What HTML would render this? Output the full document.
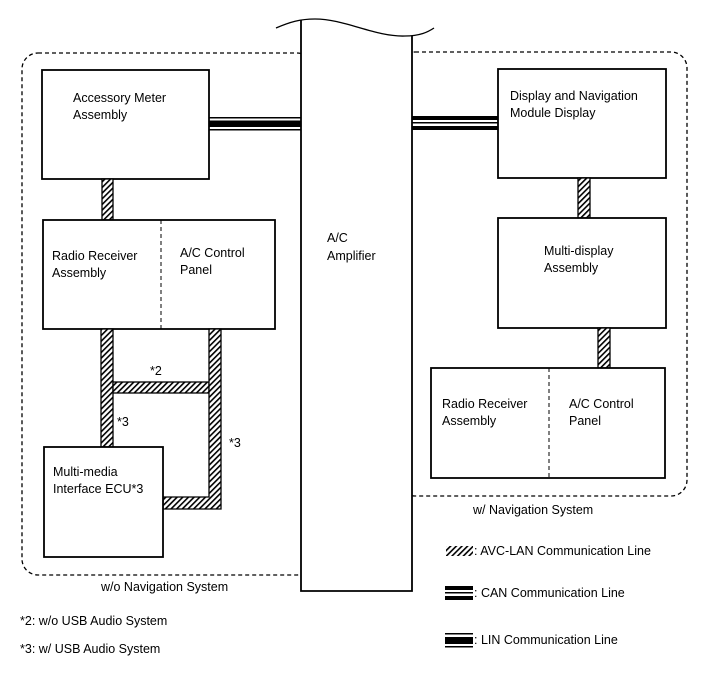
<!DOCTYPE html>
<html><head><meta charset="utf-8"><style>
html,body{margin:0;padding:0;background:#fff}
svg{display:block}
text{font-family:"Liberation Sans",Arial,sans-serif;font-size:12.5px;fill:#000}
</style></head><body>
<svg width="713" height="681" viewBox="0 0 713 681" xmlns="http://www.w3.org/2000/svg">
<defs>
<pattern id="h" patternUnits="userSpaceOnUse" width="4" height="4" patternTransform="rotate(45)">
<rect width="4" height="4" fill="#fff"/><rect width="1.6" height="4" fill="#000"/>
</pattern>
</defs>
<!-- dashed groups -->
<rect x="22" y="53" width="291" height="522" rx="16" fill="none" stroke="#000" stroke-width="1.3" stroke-dasharray="4,3"/>
<rect x="399" y="52" width="288" height="444" rx="16" fill="none" stroke="#000" stroke-width="1.3" stroke-dasharray="4,3"/>
<!-- A/C amplifier -->
<path d="M301,20 L301,591 L412,591 L412,36" fill="#fff" stroke="#000" stroke-width="1.8"/>
<path d="M276,28 C290,22 300,19 315,19 C345,19 375,37 405,36 C420,36 428,32 434,28" fill="none" stroke="#000" stroke-width="1.3"/>
<text x="327" y="242">A/C</text><text x="327" y="260">Amplifier</text>
<!-- LIN left -->
<rect x="209" y="117" width="92" height="1.5" fill="#000"/>
<rect x="209" y="120.5" width="92" height="6.5" fill="#000"/>
<rect x="209" y="129" width="92" height="1.5" fill="#000"/>
<!-- CAN right -->
<rect x="412" y="116" width="86" height="4" fill="#000"/>
<rect x="412" y="122" width="86" height="1.5" fill="#000"/>
<rect x="412" y="126" width="86" height="4" fill="#000"/>
<!-- left boxes -->
<rect x="42" y="70" width="167" height="109" fill="#fff" stroke="#000" stroke-width="1.8"/>
<text x="73" y="102">Accessory Meter</text><text x="73" y="119">Assembly</text>
<rect x="102" y="179" width="11" height="41" fill="url(#h)" stroke="#000" stroke-width="1.3"/>
<rect x="43" y="220" width="232" height="109" fill="#fff" stroke="#000" stroke-width="1.8"/>
<line x1="161" y1="220" x2="161" y2="329" stroke="#000" stroke-width="1" stroke-dasharray="4,3"/>
<text x="52" y="260">Radio Receiver</text><text x="52" y="277">Assembly</text>
<text x="180" y="257">A/C Control</text><text x="180" y="274">Panel</text>
<!-- connectors -->
<rect x="101" y="329" width="12" height="118" fill="url(#h)" stroke="#000" stroke-width="1.3"/>
<rect x="113" y="382" width="96" height="11" fill="url(#h)" stroke="#000" stroke-width="1.3"/>
<path d="M209,329 L221,329 L221,509 L163,509 L163,497 L209,497 Z" fill="url(#h)" stroke="#000" stroke-width="1.3"/>
<text x="150" y="375">*2</text><text x="117" y="426">*3</text><text x="229" y="447">*3</text>
<rect x="44" y="447" width="119" height="110" fill="#fff" stroke="#000" stroke-width="1.8"/>
<text x="53" y="476">Multi-media</text><text x="53" y="493">Interface ECU*3</text>
<text x="101" y="591">w/o Navigation System</text>
<text x="20" y="625">*2: w/o USB Audio System</text>
<text x="20" y="653">*3: w/ USB Audio System</text>
<!-- right boxes -->
<rect x="498" y="69" width="168" height="109" fill="#fff" stroke="#000" stroke-width="1.8"/>
<text x="510" y="100">Display and Navigation</text><text x="510" y="117">Module Display</text>
<rect x="578" y="178" width="12" height="40" fill="url(#h)" stroke="#000" stroke-width="1.3"/>
<rect x="498" y="218" width="168" height="110" fill="#fff" stroke="#000" stroke-width="1.8"/>
<text x="544" y="255">Multi-display</text><text x="544" y="272">Assembly</text>
<rect x="598" y="328" width="12" height="40" fill="url(#h)" stroke="#000" stroke-width="1.3"/>
<rect x="431" y="368" width="234" height="110" fill="#fff" stroke="#000" stroke-width="1.8"/>
<line x1="549" y1="368" x2="549" y2="478" stroke="#000" stroke-width="1" stroke-dasharray="4,3"/>
<text x="442" y="408">Radio Receiver</text><text x="442" y="425">Assembly</text>
<text x="569" y="408">A/C Control</text><text x="569" y="425">Panel</text>
<text x="473" y="514">w/ Navigation System</text>
<!-- legend -->
<rect x="446" y="546" width="27" height="10" fill="url(#h)"/>
<text x="474" y="555">: AVC-LAN Communication Line</text>
<rect x="445" y="586" width="28" height="4" fill="#000"/>
<rect x="445" y="592" width="28" height="1.5" fill="#000"/>
<rect x="445" y="596" width="28" height="4" fill="#000"/>
<text x="474" y="597">: CAN Communication Line</text>
<rect x="445" y="633" width="28" height="1.5" fill="#000"/>
<rect x="445" y="637" width="28" height="7" fill="#000"/>
<rect x="445" y="646" width="28" height="1.5" fill="#000"/>
<text x="474" y="644">: LIN Communication Line</text>
</svg>
</body></html>
